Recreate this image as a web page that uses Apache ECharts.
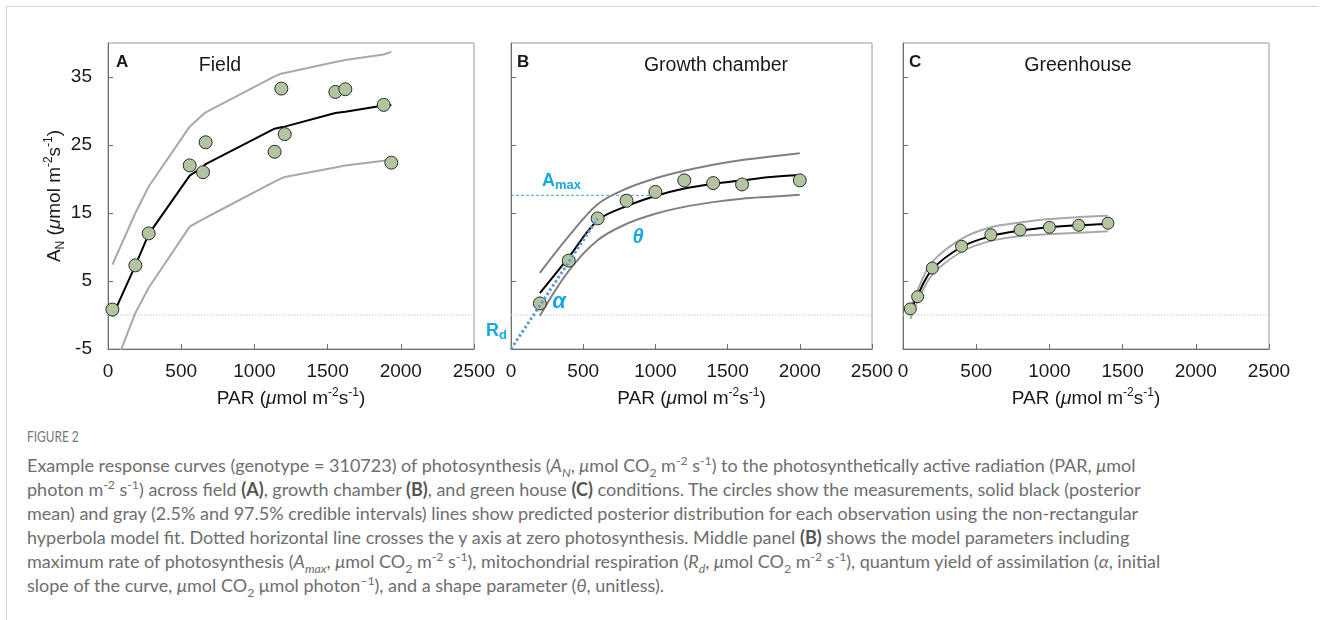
<!DOCTYPE html>
<html>
<head>
<meta charset="utf-8">
<script src="https://cdn.jsdelivr.net/npm/echarts@6/dist/echarts.min.js"></script>
<style>
  html, body { margin: 0; padding: 0; background: #fff; }
  #page { position: relative; width: 1328px; height: 620px; overflow: hidden; }
  #frame { position: absolute; left: 6px; top: 6px; width: 1312px; height: 640px;
           border-top: 1px solid #d2d2d2; border-left: 1px solid #d2d2d2; }
  #chart { position: absolute; left: 0; top: 0; width: 1328px; height: 420px; }
  #fig { position: absolute; left: 27px; top: 428px; font-family: Lato, sans-serif;
         font-size: 14.5px; color: #777; transform: scaleX(0.82); transform-origin: left top; }
  #caption { position: absolute; left: 27px; top: 453px; font-family: Lato, sans-serif;
             font-size: 18px; line-height: 24px; color: #6e6e6e; white-space: nowrap; }
  #caption b { color: #555; }
  #caption sup, #caption sub { font-size: 0.68em; line-height: 0; }
</style>
</head>
<body>
<div id="page">
  <div id="frame"></div>
  <div id="chart"></div>
  <div id="fig">FIGURE 2</div>
  <div id="caption">
    Example response curves (genotype = 310723) of photosynthesis (<i>A<sub>N</sub></i>, <i>μ</i>mol CO<sub>2</sub> m<sup>-2</sup> s<sup>-1</sup>) to the photosynthetically active radiation (PAR, <i>μ</i>mol<br>
    photon m<sup>-2</sup> s<sup>-1</sup>) across field <b>(A)</b>, growth chamber <b>(B)</b>, and green house <b>(C)</b> conditions. The circles show the measurements, solid black (posterior<br>
    mean) and gray (2.5% and 97.5% credible intervals) lines show predicted posterior distribution for each observation using the non-rectangular<br>
    hyperbola model fit. Dotted horizontal line crosses the y axis at zero photosynthesis. Middle panel <b>(B)</b> shows the model parameters including<br>
    maximum rate of photosynthesis (<i>A<sub>max</sub></i>, <i>μ</i>mol CO<sub>2</sub> m<sup>-2</sup> s<sup>-1</sup>), mitochondrial respiration (<i>R<sub>d</sub></i>, <i>μ</i>mol CO<sub>2</sub> m<sup>-2</sup> s<sup>-1</sup>), quantum yield of assimilation (<i>α</i>, initial<br>
    slope of the curve, <i>μ</i>mol CO<sub>2</sub> μmol photon<sup>−1</sup>), and a shape parameter (<i>θ</i>, unitless).
  </div>
</div>
<script>
// ---- data ----

// A: field
const fieldPar   = [30, 187, 278, 558, 649, 667, 1138, 1184, 1207, 1553, 1621, 1883, 1935];
const fieldObs   = [0.8, 7.3, 12.0, 22.0, 21.0, 25.4, 24.0, 33.3, 26.6, 32.8, 33.2, 30.9, 22.4];
const fieldMean  = [-0.2, 7.3, 11.9, 20.5, 21.8, 22.2, 27.4, 27.6, 27.7, 29.7, 29.9, 30.8, 30.9];
const fieldUpper = [7.4, 15.0, 18.9, 27.7, 29.5, 29.8, 35.1, 35.5, 35.6, 37.2, 37.5, 38.3, 38.7];
const fieldLower = [-8.4, 0.3, 4.0, 13.0, 14.1, 14.3, 19.6, 20.1, 20.3, 21.7, 22.0, 22.7, 22.9];

// B: growth chamber
const chamberObsPar = [200, 400, 600, 800, 1000, 1200, 1400, 1600, 2000];
const chamberObs    = [1.7, 8.0, 14.2, 16.8, 18.1, 19.8, 19.4, 19.2, 19.8];
const chamberPar    = [200, 400, 600, 800, 1000, 1200, 1400, 1600, 1800, 2000];
const chamberMean   = [3.2, 8.5, 13.9, 16.0, 17.5, 18.6, 19.3, 19.8, 20.3, 20.6];
const chamberUpper  = [6.2, 11.6, 16.3, 18.6, 20.1, 21.2, 22.1, 22.8, 23.3, 23.8];
const chamberLower  = [-0.1, 6.5, 11.0, 13.4, 14.9, 15.9, 16.6, 17.1, 17.4, 17.7];
const amaxLine      = [[0, 17.6], [990, 17.6]];
const alphaLine     = [[0, -5], [600, 14.2]];

// C: greenhouse
const greenPar   = [50, 100, 200, 400, 600, 800, 1000, 1200, 1400];
const greenObs   = [0.9, 2.7, 6.9, 10.1, 11.8, 12.5, 12.9, 13.2, 13.5];
const greenMean  = [0.3, 2.9, 6.7, 10.0, 11.6, 12.4, 12.9, 13.2, 13.4];
const greenUpper = [0.9, 3.7, 7.8, 11.2, 12.9, 13.6, 14.1, 14.4, 14.6];
const greenLower = [-0.6, 2.0, 5.9, 9.3, 10.9, 11.6, 11.9, 12.1, 12.3];

// zero photosynthesis reference
const zeroLine = [[0, 0], [2500, 0]];

const xTicks = [0, 500, 1000, 1500, 2000, 2500];
const yTicks = [-5, 5, 15, 25, 35];

// ---- styling ----
const FONT = '"Liberation Sans", Arial, sans-serif';
const BLUE_TXT = '#17a9e6';
const BLUE_LINE = '#5b9bd5';
const DOT_FILL = '#b2c5a0';

const chart = echarts.init(document.getElementById('chart'), null, { renderer: 'canvas' });

const pairs = (xs, ys) => xs.map((x, i) => [x, ys[i]]);

const nameRich = {
  n: { fontSize: 19, fontFamily: FONT, color: '#1a1a1a', lineHeight: 24 },
  i: { fontSize: 19, fontFamily: FONT, color: '#1a1a1a', fontStyle: 'italic', lineHeight: 24 },
  sup: { fontSize: 12, fontFamily: FONT, color: '#1a1a1a', verticalAlign: 'top', lineHeight: 24 },
  sub: { fontSize: 12, fontFamily: FONT, color: '#1a1a1a', verticalAlign: 'bottom', lineHeight: 24 }
};

const grids = [
  { left: 108, top: 43, width: 366, height: 306 },
  { left: 511, top: 43, width: 361, height: 306 },
  { left: 903, top: 43, width: 366, height: 306 }
].map(g => Object.assign(g, { show: true, borderColor: '#9a9a9a', borderWidth: 1, containLabel: false }));

function xAxisFor(idx) {
  return {
    gridIndex: idx, type: 'value', min: 0, max: 2500, interval: 500,
    axisLine: { show: true, onZero: false, lineStyle: { color: '#6e6e6e', width: 1 } },
    axisTick: { show: true, inside: true, length: 5, lineStyle: { color: '#6e6e6e' }, customValues: xTicks },
    axisLabel: {
      fontSize: 19, fontFamily: FONT, color: '#1a1a1a', margin: 13, customValues: xTicks,
      formatter: v => String(v)
    },
    splitLine: { show: false },
    name: '{n|PAR (}{i|μ}{n|mol m}{sup|-2}{n|s}{sup|-1}{n|)}',
    nameLocation: 'middle', nameGap: 38,
    nameTextStyle: { rich: nameRich }
  };
}

function yAxisFor(idx) {
  const ax = {
    gridIndex: idx, type: 'value', min: -5, max: 40,
    axisLine: { show: true, onZero: false, lineStyle: { color: '#6e6e6e', width: 1 } },
    axisTick: { show: true, inside: true, length: 5, lineStyle: { color: '#6e6e6e' }, customValues: yTicks },
    axisLabel: {
      show: idx === 0, fontSize: 19, fontFamily: FONT, color: '#1a1a1a', margin: 16, customValues: yTicks,
      formatter: v => String(v)
    },
    splitLine: { show: false }
  };
  if (idx === 0) {
    ax.name = '{n|A}{sub|N}{n| (}{i|μ}{n|mol m}{sup|-2}{n|s}{sup|-1}{n|)}';
    ax.nameLocation = 'middle';
    ax.nameGap = 40;
    ax.nameRotate = 90;
    ax.nameTextStyle = { rich: nameRich };
  }
  return ax;
}

function simpleLine(idx, data, lineStyle, z, smooth) {
  return {
    type: 'line', xAxisIndex: idx, yAxisIndex: idx, data: data,
    showSymbol: false, symbol: 'none', silent: true, z: z, smooth: smooth || false,
    lineStyle: lineStyle
  };
}

function obs(idx, xs, ys, size) {
  return {
    type: 'scatter', xAxisIndex: idx, yAxisIndex: idx, data: pairs(xs, ys),
    symbol: 'circle', symbolSize: size, z: 4,
    itemStyle: { color: DOT_FILL, borderColor: '#2a2a2a', borderWidth: 1, opacity: 1 }
  };
}

const zeroStyle = { color: '#c8c8c8', width: 1, type: [1.5, 1.5] };
const lightBand = { color: '#a8a8a8', width: 2 };
const darkBand = { color: '#808080', width: 2 };
const meanStyle = { color: '#000', width: 2 };

const series = [
  // A
  simpleLine(0, zeroLine, zeroStyle, 1),
  simpleLine(0, pairs(fieldPar, fieldUpper), lightBand, 2),
  simpleLine(0, pairs(fieldPar, fieldLower), lightBand, 2),
  simpleLine(0, pairs(fieldPar, fieldMean), meanStyle, 3),
  obs(0, fieldPar, fieldObs, 13),
  // B
  simpleLine(1, zeroLine, zeroStyle, 1),
  simpleLine(1, pairs(chamberPar, chamberUpper), darkBand, 2, 0.35),
  simpleLine(1, pairs(chamberPar, chamberLower), darkBand, 2, 0.35),
  simpleLine(1, pairs(chamberPar, chamberMean), meanStyle, 3, 0.35),
  obs(1, chamberObsPar, chamberObs, 13),
  simpleLine(1, amaxLine, { color: BLUE_LINE, width: 1, type: [3, 2] }, 1),
  simpleLine(1, alphaLine, { color: BLUE_LINE, width: 3, type: [2.5, 2.5] }, 5),
  // C
  simpleLine(2, zeroLine, zeroStyle, 1),
  simpleLine(2, pairs(greenPar, greenUpper), lightBand, 2, 0.35),
  simpleLine(2, pairs(greenPar, greenLower), lightBand, 2, 0.35),
  simpleLine(2, pairs(greenPar, greenMean), meanStyle, 3, 0.35),
  obs(2, greenPar, greenObs, 12)
];

function label(x, y, text, opts) {
  return {
    type: 'text', x: x, y: y, z: 100, silent: true,
    style: Object.assign({
      text: text, fontFamily: FONT, fontSize: 19, fill: '#1a1a1a',
      align: 'left', textAlign: 'left', verticalAlign: 'middle', textVerticalAlign: 'middle'
    }, opts || {})
  };
}

const blueRich = {
  b: { fontFamily: FONT, fontWeight: 'bold', fontSize: 18, fill: BLUE_TXT, color: BLUE_TXT, lineHeight: 22 },
  s: { fontFamily: FONT, fontWeight: 'bold', fontSize: 13, fill: BLUE_TXT, color: BLUE_TXT, verticalAlign: 'bottom', lineHeight: 22 }
};

const graphics = [
  label(116, 62, 'A', { fontWeight: 'bold', fontSize: 17 }),
  label(220, 66, 'Field', { fontSize: 19.5, align: 'center', textAlign: 'center' }),
  label(517, 62, 'B', { fontWeight: 'bold', fontSize: 17 }),
  label(716, 66, 'Growth chamber', { fontSize: 19.5, align: 'center', textAlign: 'center' }),
  label(909, 62, 'C', { fontWeight: 'bold', fontSize: 17 }),
  label(1078, 66, 'Greenhouse', { fontSize: 19.5, align: 'center', textAlign: 'center' }),
  label(542, 181, '{b|A}{s|max}', { rich: blueRich, fill: BLUE_TXT }),
  label(638, 237, 'θ', { fill: BLUE_TXT, fontWeight: 'bold', fontStyle: 'italic', fontSize: 20, align: 'center', textAlign: 'center' }),
  label(559, 302, 'α', { fill: BLUE_TXT, fontWeight: 'bold', fontStyle: 'italic', fontSize: 22, align: 'center', textAlign: 'center' }),
  label(486, 331, '{b|R}{s|d}', { rich: blueRich, fill: BLUE_TXT })
];

chart.setOption({
  animation: false,
  backgroundColor: 'transparent',
  grid: grids,
  xAxis: [0, 1, 2].map(xAxisFor),
  yAxis: [0, 1, 2].map(yAxisFor),
  series: series,
  graphic: { elements: graphics }
});
</script>
</body>
</html>
